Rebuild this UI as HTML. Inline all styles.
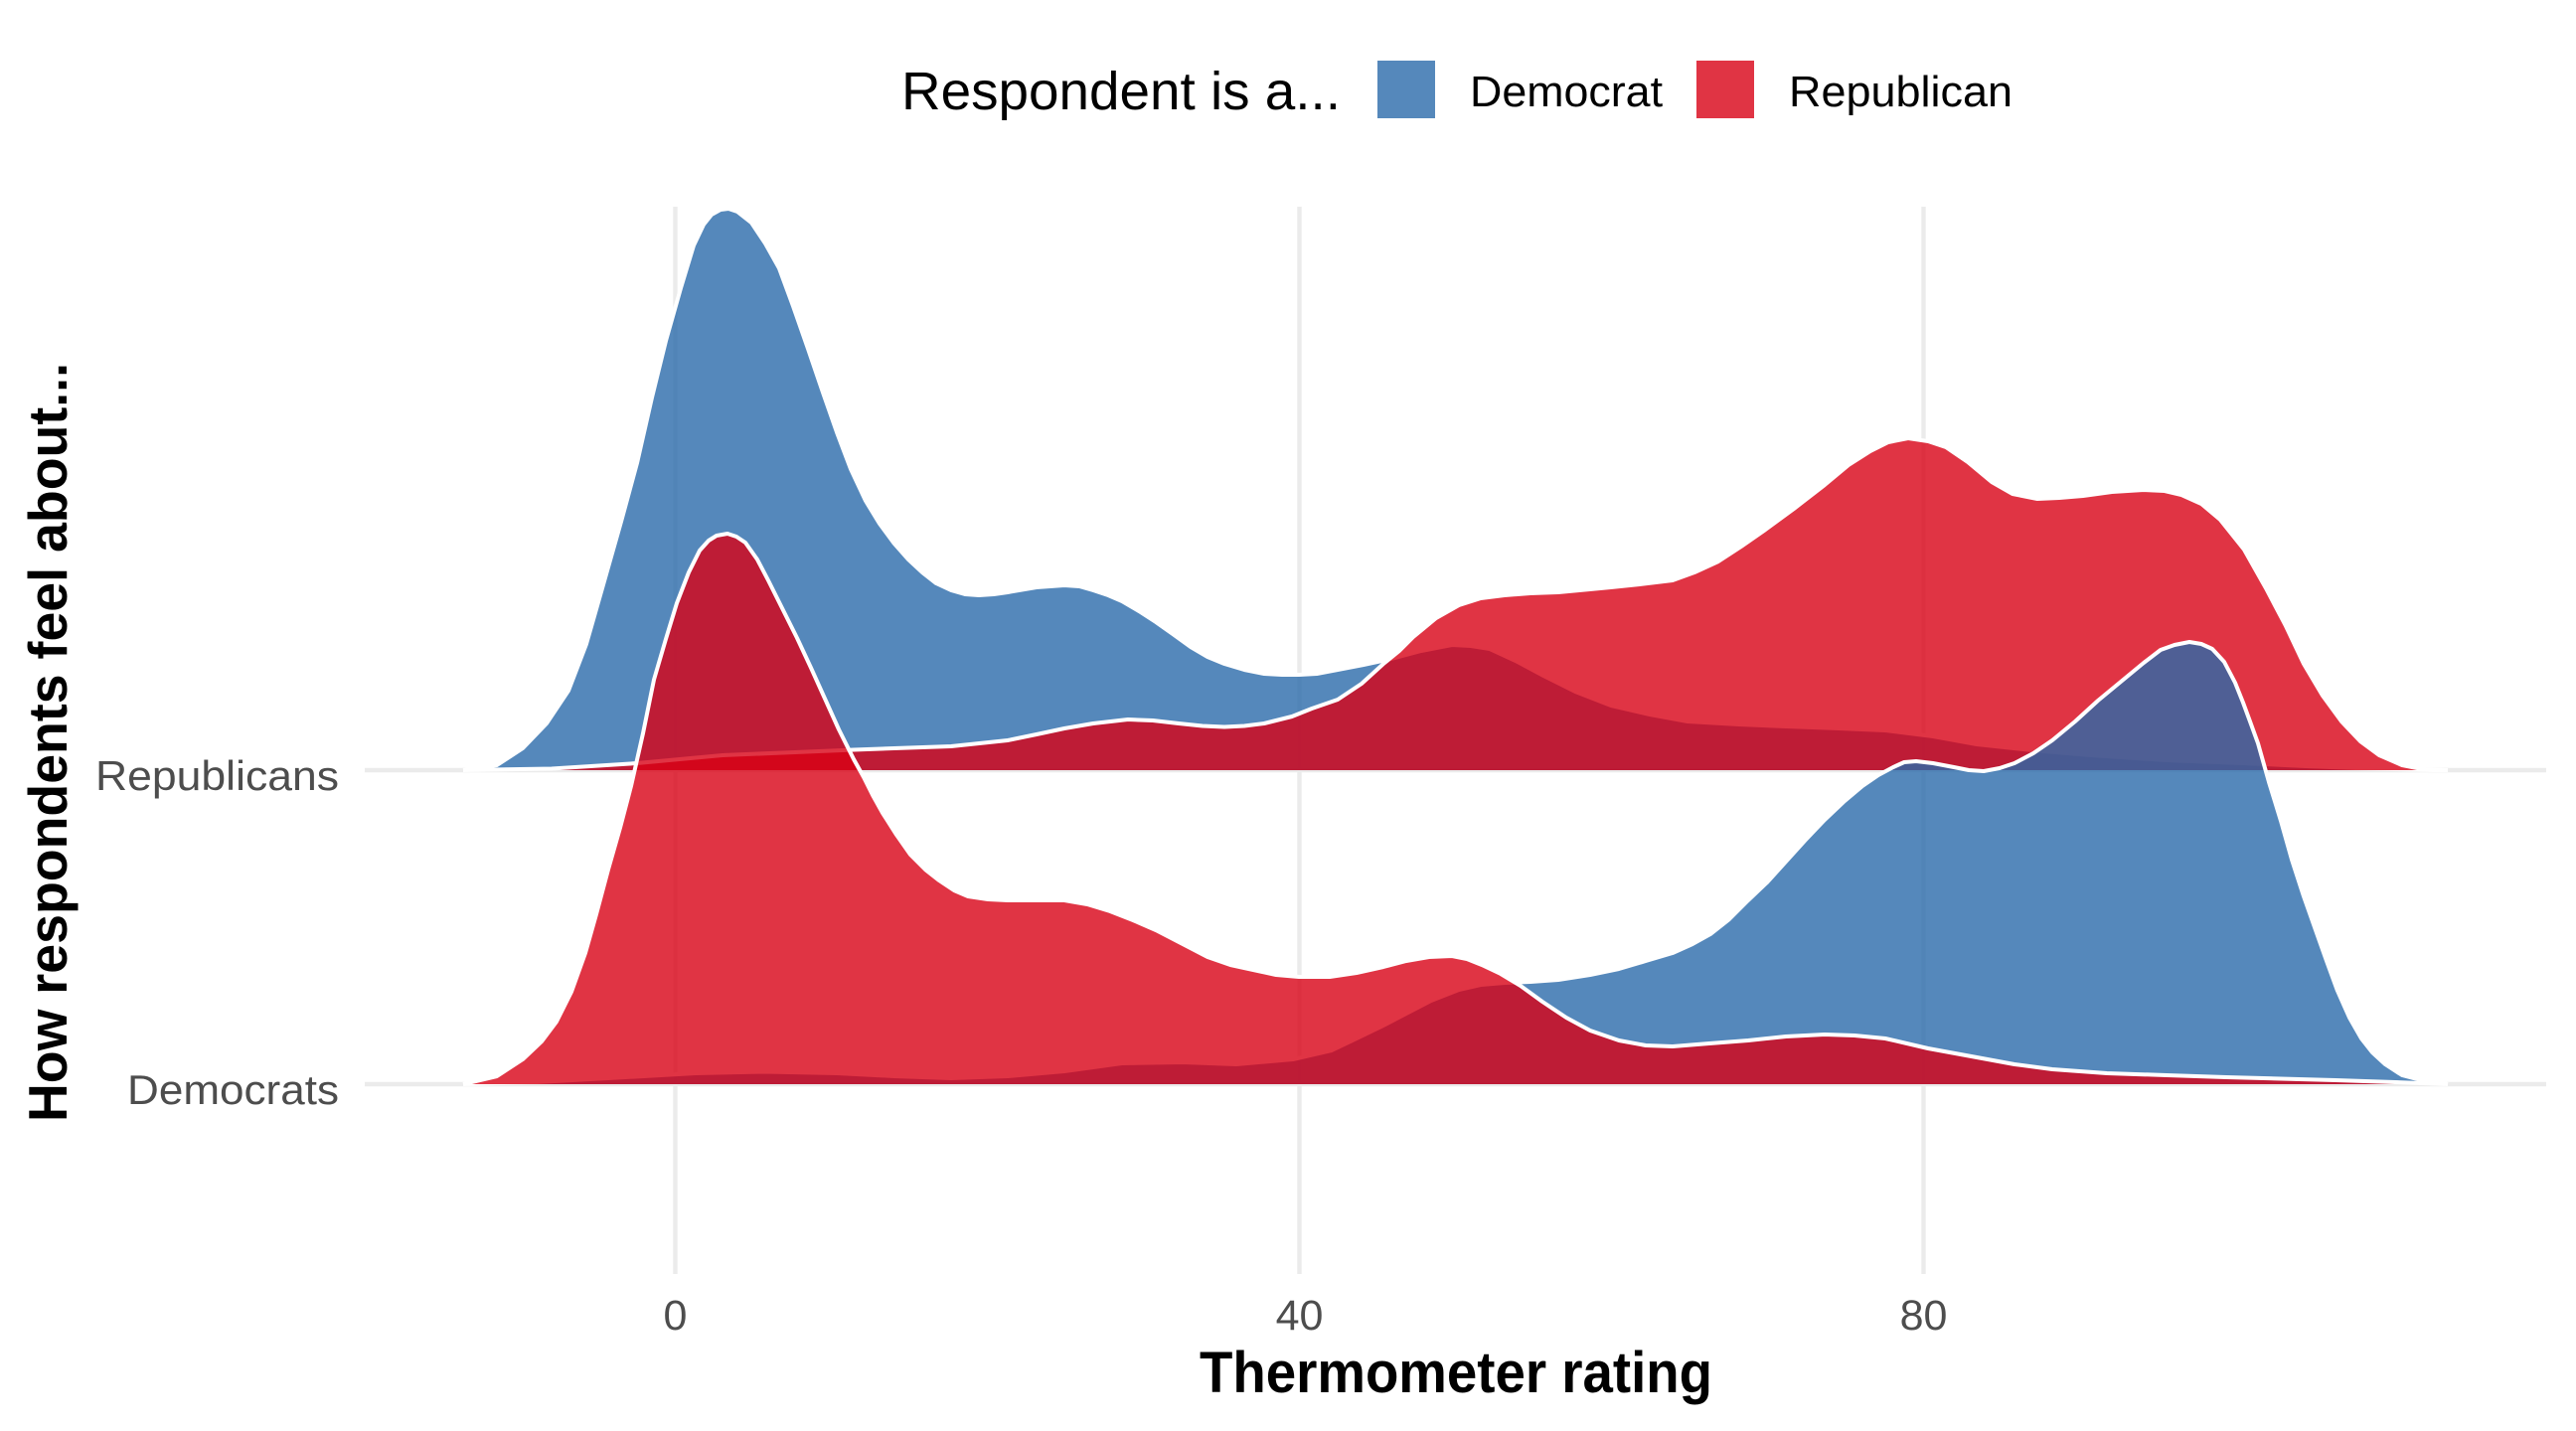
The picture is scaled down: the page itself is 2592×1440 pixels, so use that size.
<!DOCTYPE html>
<html>
<head>
<meta charset="utf-8">
<style>
html,body{margin:0;padding:0;background:#fff;}
svg{display:block;}
text{font-family:"Liberation Sans",sans-serif;}
</style>
</head>
<body>
<svg width="2592" height="1440" viewBox="0 0 2592 1440" xmlns="http://www.w3.org/2000/svg">
<rect x="0" y="0" width="2592" height="1440" fill="#ffffff"/>
<!-- grid -->
<g stroke="#EBEBEB" stroke-width="4.4" fill="none">
<line x1="679.5" y1="208" x2="679.5" y2="1282"/>
<line x1="1307.5" y1="208" x2="1307.5" y2="1282"/>
<line x1="1935.5" y1="208" x2="1935.5" y2="1282"/>
<line x1="367" y1="775" x2="2562" y2="775"/>
<line x1="367" y1="1091" x2="2562" y2="1091"/>
</g>

<!-- Upper ridge: Republicans -->
<path fill="rgb(42,106,170)" fill-opacity="0.8" d="M466,775 L500,770 526,753 550,728 572,695 590,648 606,592 625,525 641,466 656,400 670,343 685,290 698,247 708,226 716,216 725,211 733,210 742,213 756,224 770,245 784,270 798,308 813,351 828,395 842,435 856,472 871,504 885,527 899,546 914,563 928,576 942,587 957,594 971,598 985,599 1000,598 1014,596 1043,591 1071,589 1086,590 1100,594 1115,599 1129,605 1146,615 1163,626 1180,638 1198,651 1215,661 1232,668 1252,674 1272,678 1290,679 1307,679 1325,678 1346,674 1372,669 1400,663 1430,655 1461,649 1480,650 1499,653 1525,665 1553,680 1585,696 1621,710 1660,719 1698,726 1750,729 1797,731 1850,733 1897,735 1945,741 1989,749 2045,755 2104,760 2180,765 2257,768 2320,771 2371,773 2448,775 2463,775 Z"/>
<path fill="none" stroke="#fff" stroke-width="4" stroke-linejoin="round" d="M466,775 L500,770 526,753 550,728 572,695 590,648 606,592 625,525 641,466 656,400 670,343 685,290 698,247 708,226 716,216 725,211 733,210 742,213 756,224 770,245 784,270 798,308 813,351 828,395 842,435 856,472 871,504 885,527 899,546 914,563 928,576 942,587 957,594 971,598 985,599 1000,598 1014,596 1043,591 1071,589 1086,590 1100,594 1115,599 1129,605 1146,615 1163,626 1180,638 1198,651 1215,661 1232,668 1252,674 1272,678 1290,679 1307,679 1325,678 1346,674 1372,669 1400,663 1430,655 1461,649 1480,650 1499,653 1525,665 1553,680 1585,696 1621,710 1660,719 1698,726 1750,729 1797,731 1850,733 1897,735 1945,741 1989,749 2045,755 2104,760 2180,765 2257,768 2320,771 2371,773 2448,775 2463,775"/>

<path fill="rgb(216,1,21)" fill-opacity="0.8" d="M466,775 L555,773.5 641,768 727,760 800,757 859,754.5 957,751 1014,745 1043,739 1071,733 1100,728 1135,724 1160,725 1186,728 1210,730.5 1232,731.5 1252,730.5 1272,728 1300,721 1320,713 1346,704 1370,688 1392,668 1408,655 1422,641 1445,622 1468,609 1490,602 1514,599 1540,597 1568,596 1600,593 1621,591 1650,588 1683,584 1705,576 1729,565 1752,550 1775,534 1805,512 1836,488 1860,468 1882,454 1900,445 1920,441 1940,444 1958,450 1980,465 2004,485 2025,497 2050,502 2072,501 2096,499 2125,495 2157,493 2178,494 2195,498 2215,507 2234,523 2258,553 2280,592 2300,630 2318,668 2337,700 2356,726 2375,746 2394,760 2417,770 2440,774.5 2463,775 Z"/>
<path fill="none" stroke="#fff" stroke-width="4" stroke-linejoin="round" d="M466,775 L555,773.5 641,768 727,760 800,757 859,754.5 957,751 1014,745 1043,739 1071,733 1100,728 1135,724 1160,725 1186,728 1210,730.5 1232,731.5 1252,730.5 1272,728 1300,721 1320,713 1346,704 1370,688 1392,668 1408,655 1422,641 1445,622 1468,609 1490,602 1514,599 1540,597 1568,596 1600,593 1621,591 1650,588 1683,584 1705,576 1729,565 1752,550 1775,534 1805,512 1836,488 1860,468 1882,454 1900,445 1920,441 1940,444 1958,450 1980,465 2004,485 2025,497 2050,502 2072,501 2096,499 2125,495 2157,493 2178,494 2195,498 2215,507 2234,523 2258,553 2280,592 2300,630 2318,668 2337,700 2356,726 2375,746 2394,760 2417,770 2440,774.5 2463,775"/>

<!-- Lower ridge: Democrats -->
<path fill="rgb(42,106,170)" fill-opacity="0.8" d="M466,1091 L540,1089 612,1085 700,1080 770,1078.5 842,1080 900,1083 957,1085 1014,1083 1071,1078 1129,1070 1190,1069 1244,1071 1301,1066 1340,1057 1361,1047 1390,1033 1415,1020 1440,1007 1468,996 1490,991 1514,989 1540,988 1568,986 1600,981 1629,975 1656,967 1683,959 1703,950 1721,940 1740,925 1759,906 1778,888 1797,867 1816,846 1836,825 1855,807 1874,791 1890,780 1905,772 1916,767 1928,766 1945,768 1966,772 1981,775 1996,776 2012,773 2027,768 2046,758 2065,745 2088,726 2111,705 2134,686 2157,667 2174,654 2188,649 2203,646 2215,648 2226,653 2238,666 2249,687 2257,707 2264,726 2272,748 2283,787 2295,826 2306,865 2318,902 2330,936 2341,967 2352,997 2364,1024 2376,1045 2387,1059 2400,1071 2417,1082 2436,1087 2455,1089 2463,1091 Z"/>
<path fill="none" stroke="#fff" stroke-width="4" stroke-linejoin="round" d="M466,1091 L540,1089 612,1085 700,1080 770,1078.5 842,1080 900,1083 957,1085 1014,1083 1071,1078 1129,1070 1190,1069 1244,1071 1301,1066 1340,1057 1361,1047 1390,1033 1415,1020 1440,1007 1468,996 1490,991 1514,989 1540,988 1568,986 1600,981 1629,975 1656,967 1683,959 1703,950 1721,940 1740,925 1759,906 1778,888 1797,867 1816,846 1836,825 1855,807 1874,791 1890,780 1905,772 1916,767 1928,766 1945,768 1966,772 1981,775 1996,776 2012,773 2027,768 2046,758 2065,745 2088,726 2111,705 2134,686 2157,667 2174,654 2188,649 2203,646 2215,648 2226,653 2238,666 2249,687 2257,707 2264,726 2272,748 2283,787 2295,826 2306,865 2318,902 2330,936 2341,967 2352,997 2364,1024 2376,1045 2387,1059 2400,1071 2417,1082 2436,1087 2455,1089 2463,1091"/>

<path fill="rgb(216,1,21)" fill-opacity="0.8" d="M466,1091 L500,1083 526,1066 545,1048 560,1028 575,998 589,959 600,920 612,875 624,833 635,791 647,738 658,684 670,643 681,607 693,576 704,554 713,544 721,539 732,537 741,540 750,546 762,563 773,584 787,612 802,642 816,672 830,703 844,734 859,764 869,782 878,800 888,818 902,840 916,860 931,875 945,886 960,896 974,902 994,905 1014,906 1043,906 1071,906 1094,910 1117,917 1140,926 1163,936 1190,950 1215,963 1238,971 1261,976 1284,981 1307,983 1338,983 1365,979 1392,973 1415,967 1438,963 1461,962 1476,965 1491,971 1510,980 1530,992 1552,1008 1576,1024 1600,1037 1629,1047 1656,1052 1683,1053 1720,1050 1759,1047 1797,1043 1836,1041 1866,1042 1897,1045 1940,1055 1989,1064 2027,1071 2065,1076 2120,1080 2180,1082 2240,1084 2295,1085.5 2350,1087 2410,1089 2463,1091 Z"/>
<path fill="none" stroke="#fff" stroke-width="4" stroke-linejoin="round" d="M466,1091 L500,1083 526,1066 545,1048 560,1028 575,998 589,959 600,920 612,875 624,833 635,791 647,738 658,684 670,643 681,607 693,576 704,554 713,544 721,539 732,537 741,540 750,546 762,563 773,584 787,612 802,642 816,672 830,703 844,734 859,764 869,782 878,800 888,818 902,840 916,860 931,875 945,886 960,896 974,902 994,905 1014,906 1043,906 1071,906 1094,910 1117,917 1140,926 1163,936 1190,950 1215,963 1238,971 1261,976 1284,981 1307,983 1338,983 1365,979 1392,973 1415,967 1438,963 1461,962 1476,965 1491,971 1510,980 1530,992 1552,1008 1576,1024 1600,1037 1629,1047 1656,1052 1683,1053 1720,1050 1759,1047 1797,1043 1836,1041 1866,1042 1897,1045 1940,1055 1989,1064 2027,1071 2065,1076 2120,1080 2180,1082 2240,1084 2295,1085.5 2350,1087 2410,1089 2463,1091"/>

<!-- Legend -->
<text x="907" y="110" font-size="54" fill="#000" textLength="442" lengthAdjust="spacingAndGlyphs">Respondent is a...</text>
<rect x="1386" y="61" width="58" height="58" fill="#5588BB"/>
<text x="1479" y="107" font-size="44" fill="#000" textLength="194" lengthAdjust="spacingAndGlyphs">Democrat</text>
<rect x="1707" y="61" width="58" height="58" fill="#E03444"/>
<text x="1800" y="107" font-size="44" fill="#000" textLength="225" lengthAdjust="spacingAndGlyphs">Republican</text>

<!-- Y axis labels -->
<text x="341" y="795" font-size="42" fill="#4D4D4D" text-anchor="end" textLength="245" lengthAdjust="spacingAndGlyphs">Republicans</text>
<text x="341" y="1111" font-size="42" fill="#4D4D4D" text-anchor="end" textLength="213" lengthAdjust="spacingAndGlyphs">Democrats</text>

<!-- X axis labels -->
<text x="679.5" y="1338" font-size="43" fill="#4D4D4D" text-anchor="middle">0</text>
<text x="1307.5" y="1338" font-size="43" fill="#4D4D4D" text-anchor="middle">40</text>
<text x="1935.5" y="1338" font-size="43" fill="#4D4D4D" text-anchor="middle">80</text>

<!-- Axis titles -->
<text x="1465" y="1401" font-size="58" font-weight="bold" fill="#000" text-anchor="middle" textLength="516" lengthAdjust="spacingAndGlyphs">Thermometer rating</text>
<text transform="translate(67,747) rotate(-90)" x="0" y="0" font-size="55" font-weight="bold" fill="#000" text-anchor="middle" textLength="764" lengthAdjust="spacingAndGlyphs">How respondents feel about...</text>
</svg>
</body>
</html>
